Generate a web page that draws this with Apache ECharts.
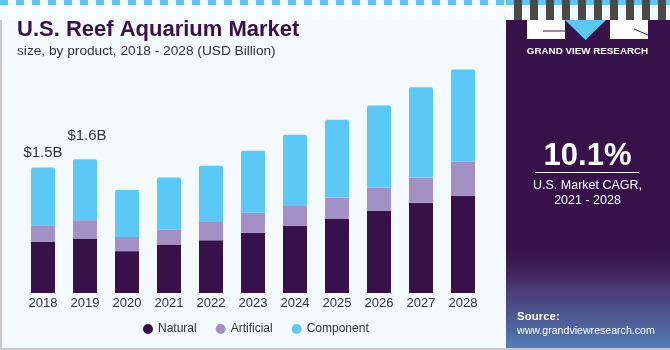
<!DOCTYPE html>
<html>
<head>
<meta charset="utf-8">
<script src="https://cdn.jsdelivr.net/npm/echarts@6/dist/echarts.min.js"></script>
<style>
    html, body { margin: 0; padding: 0; background: #f4f9fd; }
    #main { width: 670px; height: 350px; }
</style>
</head>
<body>
<div id="main"></div>
<script>
    // data (USD Billion)
    var years = ['2018', '2019', '2020', '2021', '2022', '2023', '2024', '2025', '2026', '2027', '2028'];
    var natural = [0.61, 0.65, 0.50, 0.58, 0.63, 0.72, 0.80, 0.89, 0.98, 1.08, 1.16];
    var artificial = [0.20, 0.22, 0.17, 0.18, 0.22, 0.24, 0.25, 0.25, 0.28, 0.30, 0.41];
    var component = [0.69, 0.73, 0.56, 0.62, 0.67, 0.74, 0.84, 0.93, 0.98, 1.08, 1.10];
    var totalLabels = ['$1.5B', '$1.6B'];

    var purple = '#37124a';
    var font = 'Liberation Sans, Arial, sans-serif';

    // top label only on the first two years
    var componentData = component.map(function (v, i) {
        if (i < totalLabels.length) {
            return {
                value: v,
                label: {
                    show: true,
                    position: 'top',
                    distance: i == 0 ? 7 : 16,
                    offset: [i == 0 ? 0 : 2, 0],
                    formatter: totalLabels[i],
                    fontSize: 15,
                    color: '#333',
                    fontFamily: font
                }
            };
        }
        return v;
    });

    // decoration: dashed strip at top and gray bars over the side panel
    var deco = [];
    for (var x = 0; x < 506; x += 16) {
        deco.push({ type: 'rect', shape: { x: x, y: 0, width: 8, height: 5 }, style: { fill: '#5bc8f2' } });
        deco.push({ type: 'rect', shape: { x: x + 8, y: 5, width: 8, height: 15 }, style: { fill: '#ffffff', opacity: 0.7 } });
    }
    for (var x2 = 506; x2 < 670; x2 += 16) {
        deco.push({ type: 'rect', shape: { x: x2, y: 0, width: 8, height: 5 }, style: { fill: '#5bc8f2' } });
        deco.push({ type: 'rect', shape: { x: x2 + 8, y: 0, width: 8, height: 20 }, style: { fill: '#4a4a4a' } });
    }

    var myChart = echarts.init(document.getElementById('main'));
    var option = {
        backgroundColor: '#f4f9fd',
        animation: false,
        title: {
            text: 'U.S. Reef Aquarium Market',
            subtext: 'size, by product, 2018 - 2028 (USD Billion)',
            left: 12,
            top: 17,
            itemGap: 1,
            padding: [0, 5],
            textStyle: { fontSize: 22, fontWeight: 900, color: purple, fontFamily: font, lineHeight: 25 },
            subtextStyle: { fontSize: 13.7, color: '#333', fontFamily: font, lineHeight: 16 }
        },
        legend: {
            data: ['Natural', 'Artificial', 'Component'],
            left: 138,
            top: 318,
            icon: 'circle',
            itemWidth: 10,
            itemHeight: 10,
            itemGap: 19,
            textStyle: { fontSize: 12, color: '#333', fontFamily: font }
        },
        grid: { left: 22, right: 186, top: 42, bottom: 57 },
        xAxis: {
            type: 'category',
            data: years,
            axisLine: { show: false },
            axisTick: { show: false },
            axisLabel: { margin: 4, fontSize: 13, color: '#333', fontFamily: font }
        },
        yAxis: {
            type: 'value',
            min: 0,
            max: 3,
            show: false,
            splitLine: { show: false }
        },
        series: [
            { name: 'Natural', type: 'bar', stack: 'total', barWidth: 24, data: natural,
              itemStyle: { color: purple } },
            { name: 'Artificial', type: 'bar', stack: 'total', barWidth: 24, data: artificial,
              itemStyle: { color: '#a390c4' } },
            { name: 'Component', type: 'bar', stack: 'total', barWidth: 24, data: componentData,
              itemStyle: { color: '#5bc9f5', borderRadius: [2, 2, 0, 0] } }
        ],
        graphic: [
            { type: 'group', children: deco },
            // side panel
            { type: 'rect', shape: { x: 506, y: 20, width: 164, height: 330 }, style: { fill: purple } },
            { type: 'rect', shape: { x: 506, y: 240, width: 164, height: 110 },
              style: { fill: new echarts.graphic.LinearGradient(0, 0, 0, 1, [
                  { offset: 0, color: 'rgba(55,18,74,0)' },
                  { offset: 0.45, color: 'rgba(80,70,130,0.8)' },
                  { offset: 1, color: 'rgba(80,130,185,1)' }
              ]) } },
            // logo
            { type: 'rect', shape: { x: 527, y: 20, width: 38, height: 19 }, style: { fill: '#ffffff' } },
            { type: 'polygon', shape: { points: [[565, 20], [606, 20], [585.5, 40]] }, style: { fill: '#5bc8f2' } },
            { type: 'rect', shape: { x: 610, y: 20, width: 38, height: 19 }, style: { fill: '#ffffff' } },
            { type: 'line', shape: { x1: 543, y1: 31, x2: 565, y2: 31 }, style: { stroke: purple, lineWidth: 1 } },
            { type: 'line', shape: { x1: 634, y1: 29, x2: 648, y2: 35 }, style: { stroke: purple, lineWidth: 1 } },
            { type: 'text', x: 587.5, y: 51, style: { text: 'GRAND VIEW RESEARCH', fill: '#fff', font: 'bold 9.8px ' + font, align: 'center', verticalAlign: 'middle' } },
            // CAGR
            { type: 'text', x: 587.5, y: 156, style: { text: '10.1%', fill: '#fff', font: 'bold 31px ' + font, align: 'center', verticalAlign: 'middle' } },
            { type: 'line', shape: { x1: 535, y1: 172.5, x2: 639, y2: 172.5 }, style: { stroke: '#fff', lineWidth: 1 } },
            { type: 'text', x: 587.5, y: 186, style: { text: 'U.S. Market CAGR,', fill: '#fff', font: '12.5px ' + font, align: 'center', verticalAlign: 'middle' } },
            { type: 'text', x: 587.5, y: 201, style: { text: '2021 - 2028', fill: '#fff', font: '12.5px ' + font, align: 'center', verticalAlign: 'middle' } },
            // source
            { type: 'text', x: 517, y: 317, style: { text: 'Source:', fill: '#fff', font: 'bold 11.5px ' + font, verticalAlign: 'middle' } },
            { type: 'text', x: 517, y: 331, style: { text: 'www.grandviewresearch.com', fill: '#fff', font: '10.6px ' + font, verticalAlign: 'middle' } },
            // border
            { type: 'rect', shape: { x: 0, y: 20, width: 2, height: 330 }, style: { fill: '#c8c8c8' } },
            { type: 'rect', shape: { x: 0, y: 348, width: 670, height: 2 }, style: { fill: '#c8c8c8' } }
        ]
    };
    myChart.setOption(option);
</script>
</body>
</html>
